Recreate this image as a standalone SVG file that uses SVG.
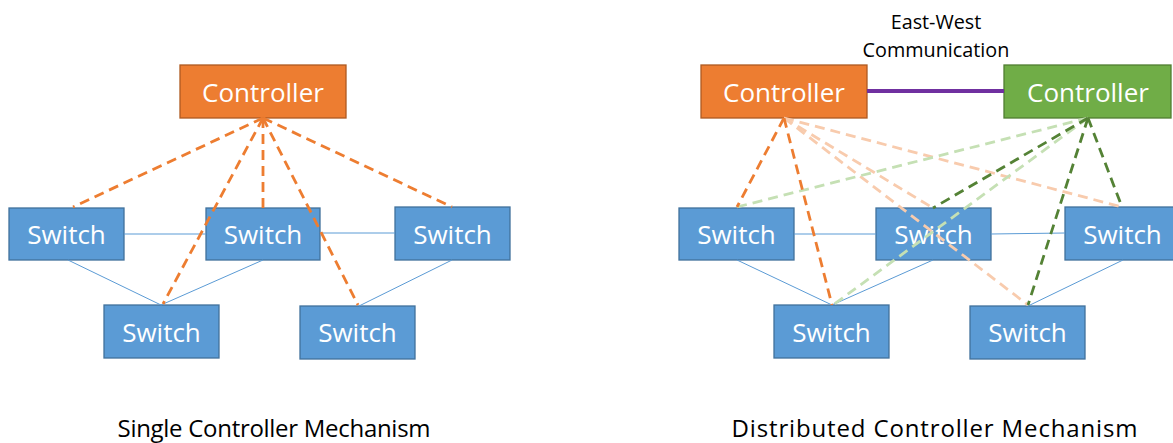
<svg xmlns="http://www.w3.org/2000/svg" width="1173" height="443" viewBox="0 0 1173 443">
<style>
.bg{fill:#ffffff}
.ctrlO{fill:#ED7D31;stroke:#AE5A21;stroke-width:1.3}
.ctrlG{fill:#70AD47;stroke:#507E32;stroke-width:1.3}
.sw{fill:#5B9BD5;stroke:#41719C;stroke-width:1.3}
.lbl{font-family:"Open Sans","Noto Sans",sans-serif;fill:#ffffff;text-anchor:middle}
.big{font-size:26px}
.cap{font-family:"Open Sans","Noto Sans",sans-serif;fill:#000000;text-anchor:middle;font-size:24px}
.note{font-family:"Open Sans","Noto Sans",sans-serif;fill:#000000;text-anchor:middle;font-size:19.8px}
.link{stroke:#5B9BD5;stroke-width:1;fill:none}
.dO{stroke:#ED7D31;stroke-width:2.8;stroke-dasharray:10 6;fill:none}
.dOl{stroke:#F8CBAD;stroke-width:2.8;stroke-dasharray:10 6;fill:none}
.dG{stroke:#548235;stroke-width:2.8;stroke-dasharray:10 6;fill:none}
.dGl{stroke:#C5E0B4;stroke-width:2.8;stroke-dasharray:10 6;fill:none}
.ew{stroke:#7030A0;stroke-width:4;fill:none}
</style>
<rect class="bg" x="0" y="0" width="1173" height="443"/>

<!-- Left: Single controller -->
<g id="ctrl-single">
<rect class="ctrlO" x="180" y="65" width="166" height="53"/>
<text class="lbl big" x="263" y="101.5">Controller</text>
</g>
<g id="sw-L1"><rect class="sw" x="9" y="208" width="115" height="52"/><text class="lbl big" x="66.5" y="244">Switch</text></g>
<g id="sw-L2"><rect class="sw" x="206" y="208" width="114" height="52"/><text class="lbl big" x="263" y="244">Switch</text></g>
<g id="sw-L3"><rect class="sw" x="395" y="207" width="115" height="53"/><text class="lbl big" x="452.5" y="244">Switch</text></g>
<g id="sw-L4"><rect class="sw" x="104" y="305" width="115" height="53"/><text class="lbl big" x="161.5" y="341.5">Switch</text></g>
<g id="sw-L5"><rect class="sw" x="300" y="306" width="115" height="53"/><text class="lbl big" x="357.5" y="342">Switch</text></g>

<!-- Right: Distributed controllers -->
<g id="ctrl-orange">
<rect class="ctrlO" x="701" y="65" width="166" height="53"/>
<text class="lbl big" x="784" y="101.5">Controller</text>
</g>
<g id="ctrl-green">
<rect class="ctrlG" x="1004" y="65" width="167" height="53"/>
<text class="lbl big" x="1088" y="101.5">Controller</text>
</g>
<g id="sw-R1"><rect class="sw" x="679" y="208" width="115" height="52"/><text class="lbl big" x="736.5" y="244">Switch</text></g>
<g id="sw-R2"><rect class="sw" x="876" y="208" width="115" height="52"/><text class="lbl big" x="933.5" y="244">Switch</text></g>
<g id="sw-R3"><rect class="sw" x="1065" y="207" width="115" height="53"/><text class="lbl big" x="1122.5" y="244">Switch</text></g>
<g id="sw-R4"><rect class="sw" x="774" y="305" width="115" height="53"/><text class="lbl big" x="831.5" y="341.5">Switch</text></g>
<g id="sw-R5"><rect class="sw" x="970" y="306" width="115" height="53"/><text class="lbl big" x="1027.5" y="342">Switch</text></g>

<g id="connectors">
<!-- left switch links -->
<line class="link" x1="124" y1="234" x2="206" y2="234"/>
<line class="link" x1="320" y1="233" x2="395" y2="233"/>
<line class="link" x1="68" y1="260" x2="161" y2="305"/>
<line class="link" x1="263" y1="260" x2="161" y2="305"/>
<line class="link" x1="452" y1="260" x2="359" y2="306"/>
<!-- left control dashed -->
<line class="dO" x1="263" y1="118" x2="73" y2="207"/>
<line class="dO" x1="263" y1="118" x2="263" y2="208"/>
<line class="dO" x1="263" y1="118" x2="452" y2="207"/>
<line class="dO" x1="263" y1="118" x2="163" y2="304"/>
<line class="dO" x1="263" y1="118" x2="358" y2="305"/>

<!-- right switch links -->
<line class="link" x1="794" y1="234" x2="876" y2="234"/>
<line class="link" x1="991" y1="234" x2="1065" y2="233"/>
<line class="link" x1="737" y1="260" x2="832" y2="305"/>
<line class="link" x1="933" y1="260" x2="832" y2="305"/>
<line class="link" x1="1123" y1="260" x2="1028" y2="306"/>
<!-- east-west -->
<line class="ew" x1="867" y1="91" x2="1004" y2="91"/>
<!-- light dashed -->
<line class="dOl" x1="784" y1="118" x2="933" y2="208"/>
<line class="dOl" x1="784" y1="118" x2="1028" y2="305"/>
<line class="dOl" x1="784" y1="118" x2="1122" y2="207"/>
<line class="dGl" x1="1088" y1="118" x2="737" y2="207"/>
<line class="dGl" x1="1088" y1="118" x2="833" y2="305"/>
<!-- strong dashed -->
<line class="dO" x1="784" y1="118" x2="737" y2="207"/>
<line class="dO" x1="784" y1="118" x2="832" y2="305"/>
<line class="dG" x1="1088" y1="118" x2="933" y2="208"/>
<line class="dG" x1="1088" y1="118" x2="1028" y2="305"/>
<line class="dG" x1="1088" y1="118" x2="1122" y2="207"/>
</g>

<text class="note" x="936" y="29">East-West</text>
<text class="note" x="936" y="56.5">Communication</text>

<text class="cap" x="274" y="437" textLength="313" lengthAdjust="spacing">Single Controller Mechanism</text>
<text class="cap" x="934.5" y="437" textLength="406" lengthAdjust="spacing">Distributed Controller Mechanism</text>
</svg>
